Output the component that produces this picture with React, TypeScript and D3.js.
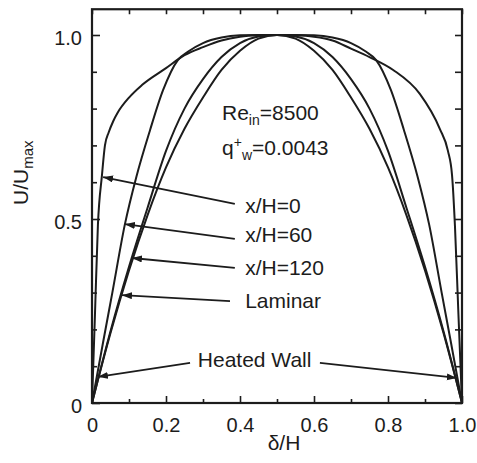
import React, { useRef, useEffect } from "react";
import * as d3 from "d3";

// velocity profiles (delta/H vs U/Umax)
const entryX = [0, 0.008, 0.016, 0.027, 0.035, 0.045, 0.057, 0.07, 0.1, 0.135, 0.2, 0.25, 0.3, 0.35, 0.4, 0.45, 0.5,
  0.55, 0.6, 0.65, 0.7, 0.75, 0.814, 0.886, 0.94, 0.962, 0.973, 0.981, 0.99, 1.0];
const entryU = [0, 0.24, 0.484, 0.62, 0.7, 0.735, 0.765, 0.79, 0.83, 0.864, 0.91, 0.945, 0.967, 0.985, 0.995, 0.999, 1.0,
  0.999, 0.995, 0.985, 0.963, 0.94, 0.905, 0.84, 0.745, 0.685, 0.62, 0.48, 0.25, 0];

const x60X = [0, 0.03, 0.055, 0.089, 0.12, 0.157, 0.192, 0.232, 0.26, 0.3, 0.35, 0.4, 0.45, 0.5,
  0.55, 0.6, 0.65, 0.7, 0.74, 0.768, 0.808, 0.843, 0.88, 0.911, 0.945, 0.97, 1.0];
const x60U = [0, 0.165, 0.3, 0.486, 0.615, 0.742, 0.85, 0.932, 0.955, 0.978, 0.993, 0.999, 1.0, 1.0,
  1.0, 0.999, 0.993, 0.978, 0.955, 0.932, 0.85, 0.742, 0.615, 0.486, 0.3, 0.165, 0];

const gridX = [0, 0.05, 0.1, 0.15, 0.2, 0.25, 0.3, 0.35, 0.4, 0.45, 0.5, 0.55, 0.6, 0.65, 0.7, 0.75, 0.8, 0.85, 0.9, 0.95, 1.0];
const x120U = [0, 0.195, 0.37, 0.53, 0.685, 0.8, 0.88, 0.94, 0.978, 0.996, 1.0, 0.996, 0.978, 0.94, 0.88, 0.8, 0.685, 0.53, 0.37, 0.195, 0];
const laminarU = [0, 0.19, 0.36, 0.51, 0.64, 0.745, 0.83, 0.905, 0.957, 0.99, 1.0, 0.99, 0.957, 0.905, 0.83, 0.745, 0.64, 0.51, 0.36, 0.19, 0];

const xMajor = [0, 0.2, 0.4, 0.6, 0.8, 1.0];
const xMinor = [0.1, 0.3, 0.5, 0.7, 0.9];
const xLabels = ["0", "0.2", "0.4", "0.6", "0.8", "1.0"];
const yMajor = [0, 0.5, 1.0];
const yMinor = [0.1, 0.2, 0.3, 0.4, 0.6, 0.7, 0.8, 0.9];
const yLabels = ["0", "0.5", "1.0"];

// annotation arrows: tail -> tip, in data units
const arrows = [
  { from: [0.386, 0.541], to: [0.03, 0.614] },
  { from: [0.386, 0.446], to: [0.089, 0.486] },
  { from: [0.386, 0.367], to: [0.108, 0.394] },
  { from: [0.373, 0.277], to: [0.081, 0.293] },
  { from: [0.265, 0.109], to: [0.016, 0.071] },
  { from: [0.616, 0.109], to: [0.986, 0.068] },
];
const labels = [
  { text: "x/H=0", at: [0.414, 0.516] },
  { text: "x/H=60", at: [0.414, 0.4375] },
  { text: "x/H=120", at: [0.414, 0.348] },
  { text: "Laminar", at: [0.414, 0.258] },
  { text: "Heated Wall", at: [0.286, 0.098] },
];

export default function App() {
  const ref = useRef<SVGSVGElement>(null);

  useEffect(() => {
    document.body.style.margin = "0";
    const width = 477;
    const height = 463;
    const font = "'Liberation Sans', Arial, Helvetica, sans-serif";
    const ink = "#1c1c1c";

    const x = d3.scaleLinear().domain([0, 1]).range([92, 462]);
    const y = d3.scaleLinear().domain([0, 1]).range([403, 35]);
    const yTop = 1.07;

    const svg = d3.select(ref.current);
    svg.selectAll("*").remove();
    svg.attr("width", width).attr("height", height).style("display", "block");

    svg.append("defs").append("marker")
      .attr("id", "head")
      .attr("markerUnits", "userSpaceOnUse")
      .attr("markerWidth", 12).attr("markerHeight", 8)
      .attr("refX", 10).attr("refY", 3.5)
      .attr("orient", "auto")
      .append("path")
      .attr("d", "M0,0 L10,3.5 L0,7 Z")
      .attr("fill", ink);

    // curves
    const line = d3.line<[number, number]>()
      .x(d => x(d[0]))
      .y(d => y(d[1]))
      .curve(d3.curveMonotoneX);

    const series: [number, number][][] = [
      entryX.map((v, i) => [v, entryU[i]]),
      x60X.map((v, i) => [v, x60U[i]]),
      gridX.map((v, i) => [v, x120U[i]]),
      gridX.map((v, i) => [v, laminarU[i]]),
    ];
    svg.append("g")
      .selectAll("path")
      .data(series)
      .join("path")
      .attr("d", d => line(d))
      .attr("fill", "none")
      .attr("stroke", ink)
      .attr("stroke-width", 2);

    // frame
    svg.append("rect")
      .attr("x", x(0)).attr("y", y(yTop))
      .attr("width", x(1) - x(0)).attr("height", y(0) - y(yTop))
      .attr("fill", "none").attr("stroke", ink).attr("stroke-width", 2.2);

    const styleAxis = (g: any) => {
      g.select(".domain").remove();
      g.selectAll("line").attr("stroke", ink).attr("stroke-width", 1.6);
      g.selectAll("text")
        .style("font-family", font)
        .style("font-size", "20px")
        .attr("fill", ink);
    };

    // bottom
    svg.append("g").attr("transform", `translate(0,${y(0)})`)
      .call(d3.axisBottom(x).tickValues(xMajor).tickSize(-7).tickPadding(15)
        .tickFormat((d, i) => xLabels[i]))
      .call(styleAxis);
    svg.append("g").attr("transform", `translate(0,${y(0)})`)
      .call(d3.axisBottom(x).tickValues(xMinor).tickSize(-4).tickFormat(() => ""))
      .call(styleAxis);
    // top
    svg.append("g").attr("transform", `translate(0,${y(yTop)})`)
      .call(d3.axisTop(x).tickValues(xMajor.concat(xMinor)).tickSize(-5).tickFormat(() => ""))
      .call(styleAxis);
    // left
    svg.append("g").attr("transform", `translate(${x(0)},0)`)
      .call(d3.axisLeft(y).tickValues(yMajor).tickSize(-8).tickPadding(10)
        .tickFormat((d, i) => yLabels[i]))
      .call(styleAxis)
      .selectAll("text").attr("dy", "0.45em");
    svg.append("g").attr("transform", `translate(${x(0)},0)`)
      .call(d3.axisLeft(y).tickValues(yMinor).tickSize(-5).tickFormat(() => ""))
      .call(styleAxis);
    // right
    svg.append("g").attr("transform", `translate(${x(1)},0)`)
      .call(d3.axisRight(y).tickValues(yMajor.concat(yMinor)).tickSize(-7).tickFormat(() => ""))
      .call(styleAxis);

    // arrows
    svg.append("g")
      .selectAll("line")
      .data(arrows)
      .join("line")
      .attr("x1", d => x(d.from[0])).attr("y1", d => y(d.from[1]))
      .attr("x2", d => x(d.to[0])).attr("y2", d => y(d.to[1]))
      .attr("stroke", ink).attr("stroke-width", 1.8)
      .attr("marker-end", "url(#head)");

    const txt = svg.append("g")
      .style("font-family", font)
      .attr("fill", ink);

    txt.selectAll("text.lbl")
      .data(labels)
      .join("text")
      .attr("class", "lbl")
      .attr("x", d => x(d.at[0])).attr("y", d => y(d.at[1]))
      .style("font-size", "21px")
      .text(d => d.text);

    const re = txt.append("text").attr("x", 222).attr("y", 120).style("font-size", "21px");
    re.append("tspan").text("Re");
    re.append("tspan").attr("dy", 5).style("font-size", "14px").text("in");
    re.append("tspan").attr("dy", -5).text("=8500");

    const q = txt.append("text").attr("x", 222).attr("y", 155).style("font-size", "21px");
    q.append("tspan").text("q");
    q.append("tspan").attr("dy", -8).style("font-size", "14px").text("+");
    q.append("tspan").attr("dy", 13).style("font-size", "14px").text("w");
    q.append("tspan").attr("dy", -5).text("=0.0043");

    // axis titles
    txt.append("text")
      .attr("x", 284).attr("y", 450)
      .attr("text-anchor", "middle")
      .style("font-size", "21px")
      .text("δ/H");

    const yt = txt.append("text")
      .attr("transform", "translate(28,205) rotate(-90)")
      .style("font-size", "21px");
    yt.append("tspan").text("U/U");
    yt.append("tspan").attr("dy", 5).style("font-size", "15px").text("max");
  }, []);

  return (
    <div>
      <svg ref={ref}></svg>
    </div>
  );
}
